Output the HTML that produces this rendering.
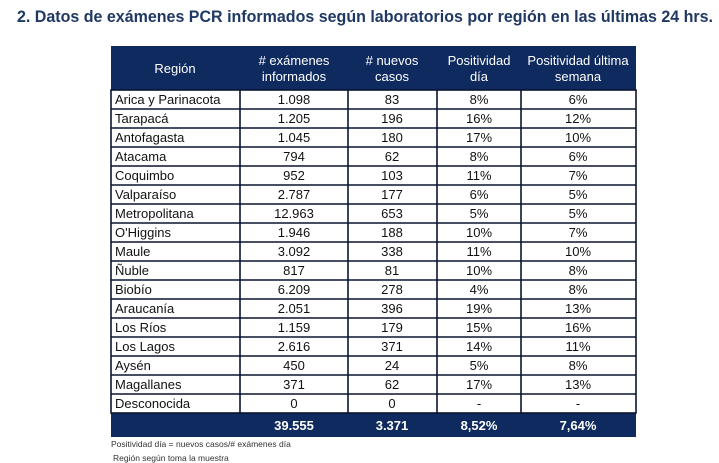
<!DOCTYPE html>
<html><head><meta charset="utf-8"><style>
html,body{margin:0;padding:0;background:#fff;width:719px;height:463px;overflow:hidden}
svg{display:block;font-family:"Liberation Sans",sans-serif}
</style></head><body>
<svg width="719" height="463" viewBox="0 0 719 463">
<text x="17" y="22" font-size="17" font-weight="bold" fill="#1f3864" textLength="696" lengthAdjust="spacingAndGlyphs">2.  Datos de exámenes PCR informados según laboratorios por región en las últimas 24 hrs.</text>
<rect x="111" y="46" width="525" height="44" fill="#0e2a5e"/>
<rect x="111" y="413" width="525" height="24" fill="#0e2a5e"/>
<g fill="#fff" font-size="13" text-anchor="middle">
<text x="175" y="73">Región</text>
<text x="294" y="65">#  exámenes</text><text x="294" y="81">informados</text>
<text x="392" y="65">#  nuevos</text><text x="392" y="81">casos</text>
<text x="479" y="65">Positividad</text><text x="479" y="81">día</text>
<text x="578" y="65">Positividad última</text><text x="578" y="81">semana</text>
</g>
<g fill="#fff" font-size="13" font-weight="bold" text-anchor="middle">
<text x="294" y="430">39.555</text><text x="392" y="430">3.371</text><text x="479" y="430">8,52%</text><text x="578" y="430">7,64%</text>
</g>
<g stroke="#0a1530" stroke-width="1.6" fill="none">
<rect x="111" y="90" width="525" height="323"/>
<line x1="240" y1="90" x2="240" y2="413"/><line x1="348" y1="90" x2="348" y2="413"/>
<line x1="437" y1="90" x2="437" y2="413"/><line x1="521" y1="90" x2="521" y2="413"/>
<path d="M111 109H636M111 128H636M111 147H636M111 166H636M111 185H636M111 204H636M111 223H636M111 242H636M111 261H636M111 280H636M111 299H636M111 318H636M111 337H636M111 356H636M111 375H636M111 394H636"/>
</g>
<g font-size="13" fill="#111">
<text x="115" y="104">Arica y Parinacota</text><text x="115" y="123">Tarapacá</text><text x="115" y="142">Antofagasta</text><text x="115" y="161">Atacama</text><text x="115" y="180">Coquimbo</text><text x="115" y="199">Valparaíso</text><text x="115" y="218">Metropolitana</text><text x="115" y="237">O'Higgins</text><text x="115" y="256">Maule</text><text x="115" y="275">Ñuble</text><text x="115" y="294">Biobío</text><text x="115" y="313">Araucanía</text><text x="115" y="332">Los Ríos</text><text x="115" y="351">Los Lagos</text><text x="115" y="370">Aysén</text><text x="115" y="389">Magallanes</text><text x="115" y="408">Desconocida</text>
</g>
<g font-size="13" fill="#111" text-anchor="middle">
<text x="294" y="104">1.098</text><text x="392" y="104">83</text><text x="479" y="104">8%</text><text x="578" y="104">6%</text>
<text x="294" y="123">1.205</text><text x="392" y="123">196</text><text x="479" y="123">16%</text><text x="578" y="123">12%</text>
<text x="294" y="142">1.045</text><text x="392" y="142">180</text><text x="479" y="142">17%</text><text x="578" y="142">10%</text>
<text x="294" y="161">794</text><text x="392" y="161">62</text><text x="479" y="161">8%</text><text x="578" y="161">6%</text>
<text x="294" y="180">952</text><text x="392" y="180">103</text><text x="479" y="180">11%</text><text x="578" y="180">7%</text>
<text x="294" y="199">2.787</text><text x="392" y="199">177</text><text x="479" y="199">6%</text><text x="578" y="199">5%</text>
<text x="294" y="218">12.963</text><text x="392" y="218">653</text><text x="479" y="218">5%</text><text x="578" y="218">5%</text>
<text x="294" y="237">1.946</text><text x="392" y="237">188</text><text x="479" y="237">10%</text><text x="578" y="237">7%</text>
<text x="294" y="256">3.092</text><text x="392" y="256">338</text><text x="479" y="256">11%</text><text x="578" y="256">10%</text>
<text x="294" y="275">817</text><text x="392" y="275">81</text><text x="479" y="275">10%</text><text x="578" y="275">8%</text>
<text x="294" y="294">6.209</text><text x="392" y="294">278</text><text x="479" y="294">4%</text><text x="578" y="294">8%</text>
<text x="294" y="313">2.051</text><text x="392" y="313">396</text><text x="479" y="313">19%</text><text x="578" y="313">13%</text>
<text x="294" y="332">1.159</text><text x="392" y="332">179</text><text x="479" y="332">15%</text><text x="578" y="332">16%</text>
<text x="294" y="351">2.616</text><text x="392" y="351">371</text><text x="479" y="351">14%</text><text x="578" y="351">11%</text>
<text x="294" y="370">450</text><text x="392" y="370">24</text><text x="479" y="370">5%</text><text x="578" y="370">8%</text>
<text x="294" y="389">371</text><text x="392" y="389">62</text><text x="479" y="389">17%</text><text x="578" y="389">13%</text>
<text x="294" y="408">0</text><text x="392" y="408">0</text><text x="479" y="408">-</text><text x="578" y="408">-</text>
</g>
<g font-size="8.5" fill="#333">
<text x="111" y="447">Positividad día = nuevos casos/# exámenes día</text>
<text x="113" y="461">Región según toma la muestra</text>
</g>
</svg>
</body></html>
